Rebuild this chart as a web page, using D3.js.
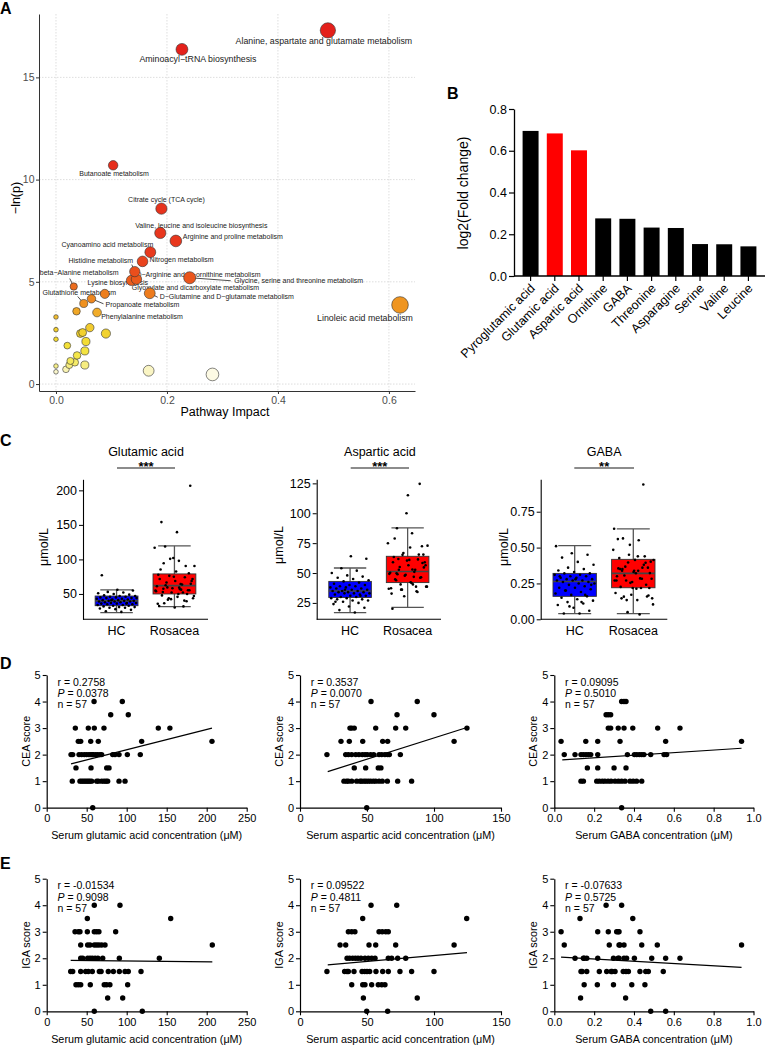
<!DOCTYPE html>
<html><head><meta charset="utf-8">
<script src="https://cdn.jsdelivr.net/npm/d3@7"></script>
<style>body{margin:0;background:#fff}svg{display:block}text{font-family:"Liberation Sans",Arial,Helvetica,sans-serif}</style>
</head><body><svg id="chart" width="766" height="1046"></svg>
<script>
// ================= DATA =================
// Panel A: pathway analysis
const pathwayNames = [
  "Alanine, aspartate and glutamate metabolism","Aminoacyl\u2212tRNA biosynthesis","Butanoate metabolism",
  "Citrate cycle (TCA cycle)","Valine, leucine and isoleucine biosynthesis","Arginine and proline metabolism",
  "Cyanoamino acid metabolism","Nitrogen metabolism","Histidine metabolism",
  "D\u2212Arginine and D\u2212ornithine metabolism","Glycine, serine and threonine metabolism",
  "Glyoxylate and dicarboxylate metabolism","Lysine biosynthesis","beta\u2212Alanine metabolism",
  "Glutathione metabolism","D\u2212Glutamine and D\u2212glutamate metabolism","Propanoate metabolism",
  "Phenylalanine metabolism","Linoleic acid metabolism",
  "","","","","","","","","","","","","","","","","","","","",""];
const pathwayImpact = [0.49,0.227,0.103,0.19,0.188,0.216,0.17,0.156,0.142,0.145,0.241,0.136,0.088,0.032,0.05,0.169,0.064,0.074,0.62,
  0,0,0,0,0,0.0204,0.018,0.024,0.026,0.034,0.038,0.044,0.048,0.052,0.052,0.054,0.061,0.09,0.167,0.282,0.037];
const pathwayNegLnP = [17.3,16.37,10.7,8.58,7.39,7.0,6.45,6.0,5.5,5.13,5.2,5.07,4.41,4.77,3.94,4.44,4.17,3.5,3.87,
  3.28,2.66,2.19,0.88,0.6,1.88,0.72,0.93,1.13,1.06,1.4,2.47,2.52,1.62,0.93,2.08,2.76,2.47,0.65,0.47,3.56];
const xTicksA = [0,0.2,0.4,0.6];
const yTicksA = [0,5,10,15];

// Panel B: fold change
const aminoNames = ["Pyroglutamic acid","Glutamic acid","Aspartic acid","Ornithine","GABA","Threonine","Asparagine","Serine","Valine","Leucine"];
const log2FC = [0.695,0.683,0.602,0.276,0.274,0.232,0.230,0.153,0.152,0.142];
const highlighted = ["Glutamic acid","Aspartic acid"];
const yTicksB = [0,0.2,0.4,0.6,0.8];

// Panels D/E: rosacea patients [concentration, score]
const ceaGlu = [[59.2,4],[94.5,4],[80,3.5],[102,3.5],[35.8,3],[52,3],[59.5,3],[71.6,3],[139.5,3],[154,3],
  [39.5,2.5],[42.5,2.5],[55,2.5],[64.5,2.5],[118.7,2.5],[206.6,2.5],
  [30.4,2],[32.5,2],[40.4,2],[43.7,2],[47,2],[50,2],[52.9,2],[55.4,2],[58.3,2],[61.2,2],[63.7,2],[66.6,2],[68.7,2],[82.5,2],[85.4,2],[90.4,2],[100.8,2],[117,2],[57,2],
  [36.6,1.5],[55.4,1.5],[75,1.5],[77.9,1.5],
  [32,1],[41.6,1],[43.7,1],[45.8,1],[47.9,1],[50,1],[52,1],[54,1],[56.2,1],[62.5,1],[64.6,1],[68.7,1],[71.6,1],[74.1,1],[76.2,1],[90.4,1],[97.9,1],[57.5,0]];
const ceaAsp = [[53,4],[87.5,4],[72.4,3.5],[100,3.5],[37.3,3],[38.6,3],[40.5,3],[56.5,3],[71.4,3],[78.9,3],[124.6,3],
  [30.6,2.5],[36.8,2.5],[46.8,2.5],[61.7,2.5],[65.4,2.5],[115,2.5],
  [20.1,2],[34.1,2],[36.1,2],[38.6,2],[41.6,2],[44,2],[46.5,2],[48.5,2],[50.2,2],[52.7,2],[55,2],[59,2],[61,2],[63.4,2],[65.4,2],[66.7,2],[74.9,2],
  [40.5,1.5],[49,1.5],[58.4,1.5],[60.4,1.5],
  [32.8,1],[34.8,1],[36.1,1],[38.6,1],[42.3,1],[44.8,1],[46,1],[47.8,1],[49.3,1],[51,1],[52.7,1],[54.7,1],[56.5,1],[59,1],[61.4,1],[65.2,1],[72.9,1],[83.3,1],[49.8,0]];
const ceaGaba = [[0.338,4],[0.35,4],[0.36,4],[0.26,3.5],[0.271,3.5],[0.283,3.5],
  [0.271,3],[0.283,3],[0.321,3],[0.35,3],[0.394,3],[0.519,3],[0.631,3],
  [0.034,2.5],[0.158,2.5],[0.218,2.5],[0.33,2.5],[0.559,2.5],[0.94,2.5],
  [0.05,2],[0.104,2],[0.134,2],[0.146,2],[0.159,2],[0.171,2],[0.183,2],[0.218,2],[0.367,2],[0.402,2],[0.414,2],[0.427,2],[0.439,2],[0.45,2],[0.484,2],[0.551,2],[0.564,2],
  [0.166,1.5],[0.218,1.5],[0.3,1.5],[0.36,1.5],
  [0.134,1],[0.146,1],[0.213,1],[0.226,1],[0.241,1],[0.254,1],[0.27,1],[0.285,1],[0.305,1],[0.322,1],[0.338,1],[0.355,1],[0.38,1],[0.396,1],[0.413,1],[0.439,1],[0.338,0]];
const igaGlu = [[59.5,4],[91.6,4],[50.8,3.5],[155,3.5],
  [35.4,3],[39.5,3],[41.6,3],[50.8,3],[59.5,3],[62.4,3],[65.3,3],[86.2,3],
  [42.5,2.5],[51.2,2.5],[54.1,2.5],[59.5,2.5],[62.4,2.5],[65.3,2.5],[68.7,2.5],[72.9,2.5],[207,2.5],
  [42.5,2],[45,2],[51.2,2],[54.1,2],[57,2],[60.5,2],[64,2],[70,2],[90.8,2],[140.8,2],
  [30,1.5],[32.5,1.5],[42.5,1.5],[48.7,1.5],[52,1.5],[57,1.5],[65.8,1.5],[68,1.5],[77,1.5],[83.3,1.5],[90.8,1.5],[97.9,1.5],[102,1.5],[117.9,1.5],
  [36.6,1],[39.5,1],[42.5,1],[54.5,1],[71.9,1],[74.8,1],[79,1],[101.2,1],
  [76.2,0.5],[95,0.5],[59.5,0],[119.5,0]];
const igaAsp = [[53,4],[72.2,4],[46.8,3.5],[124.4,3.5],
  [36.1,3],[38.6,3],[41,3],[59,3],[61.4,3],[64,3],[65.9,3],
  [29.9,2.5],[34.1,2.5],[51.5,2.5],[56.5,2.5],[71.4,2.5],[115,2.5],
  [35.1,2],[37,2],[39.3,2],[41.3,2],[43.3,2],[45.5,2],[48.5,2],[51,2],[53.5,2],[56,2],[65.9,2],[68.4,2],[72.9,2],[78.9,2],
  [20.1,1.5],[33.3,1.5],[35.1,1.5],[36.1,1.5],[40.3,1.5],[46.3,1.5],[48.3,1.5],[50,1.5],[52,1.5],[56.7,1.5],[61.7,1.5],[65.9,1.5],[74.6,1.5],[83.3,1.5],[100,1.5],
  [38.6,1],[46.8,1],[48.5,1],[53.5,1],[58.4,1],[61,1],[63.4,1],
  [47.3,0.5],[87.5,0.5],[49.8,0],[65.4,0]];
const igaGaba = [[0.26,4],[0.338,4],[0.129,3.5],[0.394,3.5],
  [0.034,3],[0.218,3],[0.271,3],[0.313,3],[0.32,3],[0.325,3],[0.43,3],
  [0.05,2.5],[0.276,2.5],[0.325,2.5],[0.33,2.5],[0.35,2.5],[0.439,2.5],[0.517,2.5],[0.94,2.5],
  [0.104,2],[0.146,2],[0.15,2],[0.163,2],[0.218,2],[0.297,2],[0.32,2],[0.325,2],[0.35,2],[0.363,2],[0.402,2],[0.489,2],[0.559,2],[0.631,2],
  [0.134,1.5],[0.14,1.5],[0.163,1.5],[0.226,1.5],[0.263,1.5],[0.285,1.5],[0.29,1.5],[0.305,1.5],[0.346,1.5],[0.36,1.5],[0.372,1.5],[0.43,1.5],[0.459,1.5],[0.472,1.5],[0.547,1.5],
  [0.15,1],[0.216,1],[0.297,1],[0.389,1],[0.455,1],
  [0.132,0.5],[0.358,0.5],[0.484,0],[0.559,0]];
const corrStats = [["0.2758","0.0378"],["0.3537","0.0070"],["0.09095","0.5010"],["-0.01534","0.9098"],["0.09522","0.4811"],["-0.07633","0.5725"]];
const fitLines = [[[30.4,1.65],[206.6,3.0]],[[20.7,1.36],[124.6,3.02]],[[0.04,1.8],[0.94,2.24]],
                  [[30,1.92],[207,1.86]],[[20.7,1.75],[124.6,2.21]],[[0.034,2.04],[0.94,1.66]]];
const scoreTicks = [0,1,2,3,4,5];

// Panel C: healthy controls (estimated) and box statistics [lowWhisker, q1, median, q3, highWhisker]
const hcGlu = [24,25,27,28,29,30,30,31,31,32,33,33,34,34,35,35,36,36,36,37,37,38,38,39,39,39,40,40,40,41,41,42,42,43,43,44,44,45,45,46,46,47,47,48,49,50,51,52,53,55,56,77,37,41,44];
const hcAsp = [17,19,21,22,24,25,26,27,27,28,28,29,29,30,30,31,31,32,32,33,33,33,34,34,34,35,35,35,36,36,37,37,38,38,39,39,40,40,41,42,43,44,45,46,47,48,50,52,54,62,64,26,31,36];
const hcGaba = [0.04,0.04,0.06,0.08,0.1,0.11,0.12,0.13,0.14,0.15,0.16,0.17,0.18,0.19,0.2,0.21,0.22,0.22,0.23,0.24,0.25,0.25,0.26,0.26,0.27,0.27,0.27,0.28,0.28,0.29,0.29,0.3,0.3,0.31,0.31,0.32,0.32,0.33,0.34,0.35,0.36,0.38,0.4,0.43,0.45,0.46,0.51,0.12,0.2,0.24,0.28,0.3,0.17,0.09];
const gluStatsHC = [22.9,33,40,47,56];
const gluStatsRos = [31.6,50,62,79,119.6];
const aspStatsHC = [16.8,29.5,35,43,54.2];
const aspStatsRos = [21.2,42,51.3,64,87.8];
const gabaStatsHC = [0.04,0.16,0.264,0.32,0.514];
const gabaStatsRos = [0.04,0.22,0.32,0.418,0.63];
const groups = ["HC","Rosacea"];

// ================= DRAW =================
const svg = d3.select("#chart");
svg.append("rect").attr("width",766).attr("height",1046).attr("fill","#fff");
function letter(t,x,y){svg.append("text").attr("x",x).attr("y",y).text(t).attr("font-size",16).attr("font-weight","bold").attr("fill","#000");}
letter("A",0,13.5); letter("B",447,99); letter("C",0,446); letter("D",0,669); letter("E",0,869);

// ---------- Panel A ----------
(function(){
  const g = svg.append("g");
  const x = d3.scaleLinear().domain([-0.0306,0.647]).range([39,415]);
  const y = d3.scaleLinear().domain([-0.34,18.1]).range([391,14]);
  const r = d3.scaleSqrt().domain([0,0.62]).range([2.3,8.3]);
  const col = d3.scaleLinear()
    .domain([0.45,0.65,0.9,1.2,2.0,2.6,3.3,3.6,4.0,4.5,5.2,6.5,17])
    .range(["#fdfbe8","#faf5c4","#f6ee86","#f4e850","#f3de34","#f2cf2c","#f2bd33","#f0a424","#ef8e1f","#ed7a1d","#ea551c","#e8381d","#e4201b"]).clamp(true);
  g.selectAll(".gx").data(xTicksA).join("line").attr("x1",d=>x(d)).attr("x2",d=>x(d)).attr("y1",14).attr("y2",391)
    .attr("stroke","#d0d0d0").attr("stroke-width",0.7).attr("stroke-dasharray","1.5,1.5");
  g.selectAll(".gy").data(yTicksA).join("line").attr("y1",d=>y(d)).attr("y2",d=>y(d)).attr("x1",39).attr("x2",415)
    .attr("stroke","#d0d0d0").attr("stroke-width",0.7).attr("stroke-dasharray","1.5,1.5");
  const ax = g.append("g").attr("transform","translate(0,391)").call(d3.axisBottom(x).tickValues(xTicksA).tickFormat(d3.format(".1f")).tickSize(3).tickSizeOuter(0));
  const ay = g.append("g").attr("transform","translate(39,0)").call(d3.axisLeft(y).tickValues(yTicksA).tickFormat(d3.format("d")).tickSize(3).tickSizeOuter(0));
  [ax,ay].forEach(a=>{a.select(".domain").attr("stroke","#333").attr("stroke-width",1);
    a.selectAll(".tick line").attr("stroke","#333");
    a.selectAll("text").attr("font-size",10.5).attr("fill","#4d4d4d").attr("font-family",'"Liberation Sans",Arial,sans-serif');});
  ay.selectAll("text").attr("x",-4.5);
  ax.selectAll("text").attr("y",6);
  g.append("text").attr("transform","translate(20,198) rotate(-90)").attr("text-anchor","middle").attr("font-size",12.5).text("\u2212ln(p)");
  g.append("text").attr("x",225).attr("y",416).attr("text-anchor","middle").attr("font-size",12.5).text("Pathway Impact");

  // label layout (offsets from the point)
  const labDx = [-4,16,1,5,41,57,-43,39,-34,62,109,64,13,5.5,-4.5,77,51,45,-35];
  const labDy = [14,13,11,-7,-5,-2,-5,1,-9,-2,5,10,-9,-12,-8,6,8,7,16];
  const labSize = [8.8,8.8,7,7,7,7,7,7,7,7,7,7,7,7,7,7,7,7,8.8];
  const leaders = {10:[41,3],15:[8,4],16:[12,5],13:[-4,-8],14:[-6,-7],8:[-3,-7]};
  const pts = pathwayNames.map((n,i)=>({n,i,px:x(pathwayImpact[i]),py:y(pathwayNegLnP[i]),imp:pathwayImpact[i],lp:pathwayNegLnP[i]}));
  Object.keys(leaders).forEach(k=>{const p=pts[+k];
    g.append("line").attr("x1",p.px).attr("y1",p.py).attr("x2",p.px+leaders[k][0]).attr("y2",p.py+leaders[k][1]).attr("stroke","#222").attr("stroke-width",0.8);});
  g.selectAll(".lab").data(pts.filter(p=>p.n)).join("text")
    .attr("x",p=>p.px+labDx[p.i]).attr("y",p=>p.py+labDy[p.i]).attr("text-anchor","middle")
    .attr("font-size",p=>labSize[p.i]).attr("fill","#222").text(p=>p.n);
  const order = pts.slice().sort((a,b)=>a.lp-b.lp);
  g.selectAll(".pt").data(order).join("circle").attr("cx",p=>p.px).attr("cy",p=>p.py).attr("r",p=>r(p.imp))
    .attr("fill",p=>col(p.lp)).attr("stroke","#333").attr("stroke-width",0.6);
})();

// ---------- Panel B ----------
(function(){
  const g = svg.append("g");
  const x = d3.scaleBand().domain(aminoNames).range([514,765]).paddingInner(0.34).paddingOuter(0.355);
  const y = d3.scaleLinear().domain([0,0.8]).range([276,109]);
  g.selectAll("rect").data(aminoNames).join("rect").attr("x",d=>x(d)).attr("width",x.bandwidth())
    .attr("y",(d,i)=>y(log2FC[i])).attr("height",(d,i)=>y(0)-y(log2FC[i]))
    .attr("fill",d=>highlighted.includes(d)?"#ff0000":"#000");
  const ay = g.append("g").attr("transform","translate(514,0)").call(d3.axisLeft(y).tickValues(yTicksB).tickFormat(d3.format(".1f")).tickSize(5).tickSizeOuter(0));
  const ax = g.append("g").attr("transform","translate(0,276)").call(d3.axisBottom(x).tickSize(5).tickSizeOuter(0));
  ax.select(".domain").attr("d","M514,0H765");
  [ax,ay].forEach(a=>{a.select(".domain").attr("stroke","#000").attr("stroke-width",1.3);
    a.selectAll(".tick line").attr("stroke","#000").attr("stroke-width",1.2);
    a.selectAll("text").attr("font-size",12.5).attr("fill","#000").attr("font-family",'"Liberation Sans",Arial,sans-serif');});
  ay.selectAll("text").attr("x",-7);
  ax.selectAll("text").attr("text-anchor","end").attr("y",0).attr("dy",0)
    .attr("transform","translate(5,13) rotate(-45)");
  g.append("text").attr("transform","translate(468,193) rotate(-90)").attr("text-anchor","middle").attr("font-size",14).text("log2(Fold change)");
})();

// ---------- Panel C ----------
(function(){
  const rosGlu = ceaGlu.map(d=>d[0]), rosAsp = ceaAsp.map(d=>d[0]), rosGaba = ceaGaba.map(d=>d[0]);
  const panels = [
    {title:"Glutamic acid",stars:"***",vals:[hcGlu,rosGlu],stats:[gluStatsHC,gluStatsRos],x0:83,x1:208,dom:[13.3,216],ticks:[50,100,150,200],fmt:d3.format("d"),sig:[117,175],yLab:[48,547]},
    {title:"Aspartic acid",stars:"***",vals:[hcAsp,rosAsp],stats:[aspStatsHC,aspStatsRos],x0:316.7,x1:441,dom:[11.3,128.4],ticks:[25,50,75,100,125],fmt:d3.format("d"),sig:[350.7,409],yLab:[283,545]},
    {title:"GABA",stars:"**",vals:[hcGaba,rosGaba],stats:[gabaStatsHC,gabaStatsRos],x0:540.7,x1:667.3,dom:[0,0.976],ticks:[0,0.25,0.5,0.75],fmt:d3.format(".2f"),sig:[574.3,634],yLab:[508,547]}
  ];
  const fills = ["#0000ff","#ff0000"];
  panels.forEach(P=>{
    const g = svg.append("g");
    const y = d3.scaleLinear().domain(P.dom).range([619.3,479.3]);
    const x = d3.scaleBand().domain(groups).range([P.x0,P.x1]).paddingInner(0.26).paddingOuter(0.21);
    const bw = x.bandwidth();
    groups.forEach((grp,gi)=>{
      const s = P.stats[gi], cx = x(grp)+bw/2;
      g.append("line").attr("x1",cx).attr("x2",cx).attr("y1",y(s[0])).attr("y2",y(s[4])).attr("stroke","#555").attr("stroke-width",1.3);
      [s[0],s[4]].forEach(v=>g.append("line").attr("x1",cx-bw*0.38).attr("x2",cx+bw*0.38).attr("y1",y(v)).attr("y2",y(v)).attr("stroke","#555").attr("stroke-width",1.3));
      g.append("rect").attr("x",x(grp)).attr("width",bw).attr("y",y(s[3])).attr("height",y(s[1])-y(s[3]))
        .attr("fill",fills[gi]).attr("stroke","#333").attr("stroke-width",0.9);
      g.append("line").attr("x1",x(grp)).attr("x2",x(grp)+bw).attr("y1",y(s[2])).attr("y2",y(s[2])).attr("stroke","#444").attr("stroke-width",1.6);
      g.selectAll(null).data(P.vals[gi]).join("circle")
        .attr("cx",(d,i)=>cx+((((i+1)*0.6180339887)%1)-0.5)*bw*0.95)
        .attr("cy",d=>y(d)).attr("r",1.3).attr("fill","#000");
    });
    const ay = g.append("g").attr("transform",`translate(${P.x0},0)`).call(d3.axisLeft(y).tickValues(P.ticks).tickFormat(P.fmt).tickSize(4).tickSizeOuter(0));
    ay.select(".domain").attr("stroke","#000").attr("stroke-width",1.1);
    ay.selectAll(".tick line").attr("stroke","#000");
    ay.selectAll("text").attr("font-size",12.5).attr("fill","#000").attr("x",-6).attr("font-family",'"Liberation Sans",Arial,sans-serif');
    g.append("line").attr("x1",P.x0).attr("x2",P.x1).attr("y1",619.3).attr("y2",619.3).attr("stroke","#000").attr("stroke-width",1.1);
    groups.forEach(grp=>g.append("text").attr("x",x(grp)+bw/2).attr("y",635).attr("text-anchor","middle").attr("font-size",12.5).text(grp));
    g.append("text").attr("transform",`translate(${P.yLab[0]},${P.yLab[1]}) rotate(-90)`).attr("text-anchor","middle").attr("font-size",12.5).text("\u03bcmol/L");
    const mid = (P.sig[0]+P.sig[1])/2;
    g.append("text").attr("x",mid).attr("y",455.7).attr("text-anchor","middle").attr("font-size",12.5).text(P.title);
    g.append("text").attr("x",mid).attr("y",471).attr("text-anchor","middle").attr("font-size",13).attr("font-weight","bold").text(P.stars);
    g.append("line").attr("x1",P.sig[0]).attr("x2",P.sig[1]).attr("y1",468).attr("y2",468).attr("stroke","#666").attr("stroke-width",1.5);
  });
})();

// ---------- Panels D & E ----------
(function(){
  const cols = [
    {dom:[0,250],rng:[46.7,246.7],ticks:[0,50,100,150,200,250],fmt:d3.format("d"),lab:"Serum glutamic acid concentration (\u03bcM)"},
    {dom:[0,150],rng:[300,501],ticks:[0,50,100,150],fmt:d3.format("d"),lab:"Serum aspartic acid concentration (\u03bcM)"},
    {dom:[0,1],rng:[554.3,753.5],ticks:[0,0.2,0.4,0.6,0.8,1.0],fmt:d3.format(".1f"),lab:"Serum GABA concentration (\u03bcM)"}
  ];
  const rows = [{rng:[807.7,675],lab:"CEA score",data:[ceaGlu,ceaAsp,ceaGaba]},{rng:[1011.3,878.7],lab:"IGA score",data:[igaGlu,igaAsp,igaGaba]}];
  rows.forEach((R,ri)=>cols.forEach((C,ci)=>{
    const k = ri*3+ci;
    const g = svg.append("g");
    const x = d3.scaleLinear().domain(C.dom).range(C.rng);
    const y = d3.scaleLinear().domain([0,5]).range(R.rng);
    const ax = g.append("g").attr("transform",`translate(0,${R.rng[0]})`).call(d3.axisBottom(x).tickValues(C.ticks).tickFormat(C.fmt).tickSize(4).tickSizeOuter(0));
    const ay = g.append("g").attr("transform",`translate(${C.rng[0]},0)`).call(d3.axisLeft(y).tickValues(scoreTicks).tickFormat(d3.format("d")).tickSize(4).tickSizeOuter(0));
    [ax,ay].forEach(a=>{a.select(".domain").attr("stroke","#000").attr("stroke-width",1.2);
      a.selectAll(".tick line").attr("stroke","#000").attr("stroke-width",1.1);
      a.selectAll("text").attr("font-size",11).attr("fill","#000").attr("font-family",'"Liberation Sans",Arial,sans-serif');});
    ay.selectAll("text").attr("x",-6);
    ax.selectAll("text").attr("y",7);
    g.selectAll(null).data(R.data[ci]).join("circle").attr("cx",d=>x(d[0])).attr("cy",d=>y(d[1])).attr("r",2.7).attr("fill","#000");
    const L = fitLines[k];
    g.append("line").attr("x1",x(L[0][0])).attr("y1",y(L[0][1])).attr("x2",x(L[1][0])).attr("y2",y(L[1][1])).attr("stroke","#000").attr("stroke-width",1.2);
    const tx = C.rng[0]+10.8, ty = R.rng[1];
    g.append("text").attr("x",tx).attr("y",ty+10.5).attr("font-size",10.5).text("r = "+corrStats[k][0]);
    const pt = g.append("text").attr("x",tx).attr("y",ty+21.8).attr("font-size",10.5);
    pt.append("tspan").attr("font-style","italic").text("P");
    pt.append("tspan").text(" = "+corrStats[k][1]);
    g.append("text").attr("x",tx).attr("y",ty+33).attr("font-size",10.5).text("n = 57");
    g.append("text").attr("x",(C.rng[0]+C.rng[1])/2).attr("y",R.rng[0]+31.5).attr("text-anchor","middle").attr("font-size",10.8).text(C.lab);
    g.append("text").attr("transform",`translate(${C.rng[0]-17},${(R.rng[0]+R.rng[1])/2}) rotate(-90)`).attr("text-anchor","middle").attr("font-size",10.8).text(R.lab);
  }));
})();
</script></body></html>
